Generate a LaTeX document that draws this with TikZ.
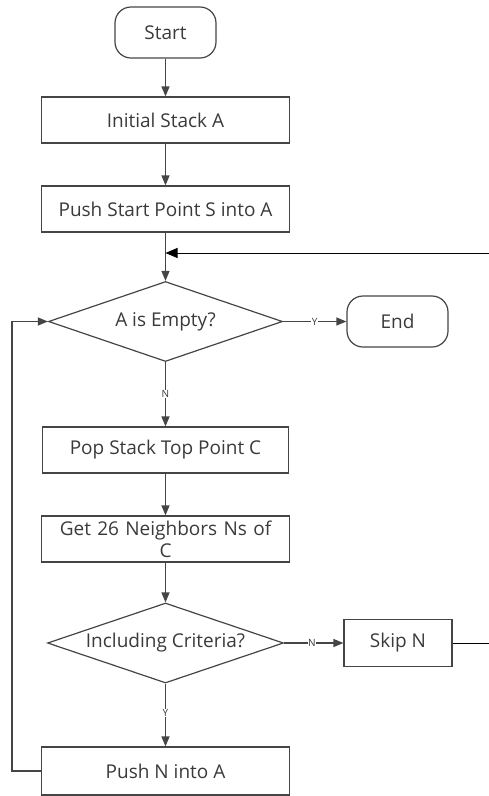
\documentclass[tikz,border=0pt]{standalone}
\usepackage{fontspec}
\setmainfont{Open Sans}
\usetikzlibrary{shapes.geometric,arrows.meta}
\definecolor{lnc}{HTML}{454545}
\definecolor{txc}{HTML}{3A3A3A}
\tikzset{
  base/.style={draw=lnc,line width=1.2pt,text=txc,font=\fontsize{19}{22}\selectfont,inner sep=0pt},
  proc/.style={base,rectangle,minimum width=248pt,minimum height=46pt},
  term/.style={base,rectangle,rounded corners=16pt,minimum width=101pt,minimum height=51pt},
  dec/.style={base,diamond,minimum width=234pt,minimum height=80pt},
  txt/.style={text=txc,font=\fontsize{19}{22}\selectfont,inner sep=0pt},
  flow/.style={draw=lnc,line width=1.2pt,-{Triangle[length=10pt,width=8pt]}},
  blk/.style={draw=black,line width=0.9pt},
  lab/.style={fill=white,text=txc,font=\fontsize{10}{11}\selectfont,inner sep=0.5pt}
}
\begin{document}
\begin{tikzpicture}[x=1pt,y=-1pt]
\useasboundingbox (0,0) rectangle (489,796);
\node[term] (start) at (165.5,32.5) {Start};
\node[proc] (init) at (165.5,120) {Initial Stack A};
\node[proc] (push) at (165.5,209) {Push Start Point S into A};
\node[dec] (empty) at (165.5,321.5) {};
\node[txt] (emptyt) at (165.5,321.5) {A is Empty?};
\node[term] (end) at (397.5,321.5) {End};
\node[proc,minimum width=246pt] (pop) at (165.5,450) {Pop Stack Top Point C};
\node[proc,align=center,text width=240pt] (get) at (165.5,539) {Get 26 Neighbors Ns of\\C};
\node[dec,minimum width=236pt] (incl) at (165.5,643) {};
\node[txt] (inclt) at (165.5,643) {Including Criteria?};
\node[proc,minimum width=108pt,minimum height=47pt] (skip) at (398,643) {Skip N};
\node[proc,minimum height=48pt] (pushn) at (165.5,771) {Push N into A};
\coordinate (rin) at (489,253);
\coordinate (join) at (165.5,253);
\coordinate (rout) at (489,643);
\coordinate (loop) at (12,771);

\draw[flow] (start.south) -- (init.north);
\draw[flow] (init.south) -- (push.north);
\draw[flow] (push.south) -- (empty.north);
\draw[flow] (empty.east) -- node[lab,pos=0.5] {Y} (end.west);
\draw[flow] (empty.south) -- node[lab,pos=0.5] {N} (pop.north);
\draw[flow] (pop.south) -- (get.north);
\draw[flow] (get.south) -- (incl.north);
\draw[flow] (incl.east) -- node[lab,pos=0.47] {N} (skip.west);
\draw[flow] (incl.south) -- node[lab,pos=0.47] {Y} (pushn.north);
\draw[flow] (pushn.west) -- (loop) |- (empty.west);
\draw[blk,-{Triangle[length=12pt,width=10pt]}] (rin) -- (join);
\draw[blk] (skip.east) -- (rout);
\end{tikzpicture}
\end{document}
